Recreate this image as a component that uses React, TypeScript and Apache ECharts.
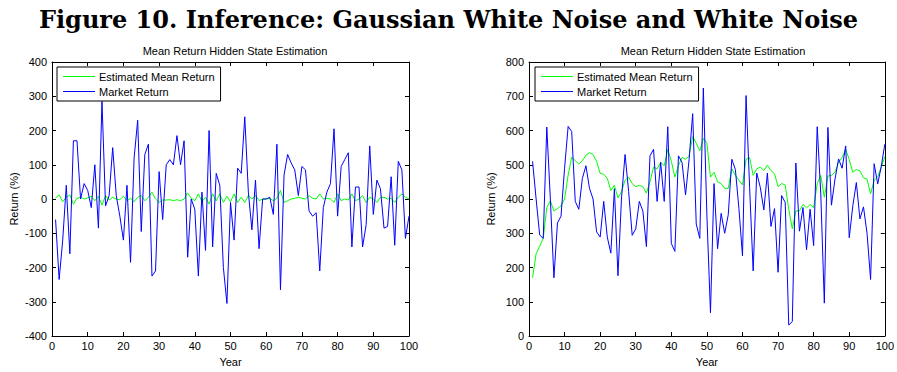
import React, { useEffect, useRef } from "react";
import * as echarts from "echarts";

const years: number[] = Array.from({ length: 100 }, (_, i) => i + 1);

const leftEstimated: number[] = [
  3, 12, -8, 5, 12, -15, 2, 5, 0, 3, 8, -5, 8, -18, 10, -3, 5, 0, -2, 8,
  -5, 2, -8, 5, 10, -5, 5, 20, 0, -10, -3, -3, -2, -5, -2, -5, 0, 18, 2, -5,
  15, -8, 5, -15, 15, -5, 15, -10, 8, -8, 15, -10, 5, -10, 10, 0, 10, -5, 0, 0,
  2, -5, 2, 25, -10, -5, 0, 2, 5, 2, 0, 10, 2, 0, 15, 0, 2, 0, -10, 15,
  -5, 0, -3, 15, -5, 0, 10, -10, 5, 0, -10, 5, 5, 0, 2, -10, 5, 15, 5, 0,
];

const leftMarket: number[] = [
  -60, -235, -120, 40, -160, 170, 170, 0, 45, 25, -25, 100, -85, 285, -20, 10, 150, 10, -50, -120,
  40, -185, 120, 230, -95, 130, 160, -225, -210, 80, -60, 100, 115, 100, 185, 100, 170, -170, 0, -30,
  -225, 20, -150, 200, -140, 75, 40, -200, -305, -10, -120, 90, 75, 240, 20, -90, 55, -145, 0, 0,
  5, -45, 160, -265, 70, 130, 105, 85, 10, 95, 85, -35, -50, -40, -210, -25, 20, 45, 205, -50,
  95, 115, 135, -140, 35, 35, -140, -75, 155, -45, 55, 30, -85, -80, 65, -135, 110, 85, -115, -50,
];

const rightEstimated: number[] = [
  170, 240, 262, 285, 375, 395, 365, 372, 380, 400, 470, 522, 512, 502, 512, 528, 535, 530, 510, 475,
  472, 460, 425, 440, 403, 422, 455, 464, 445, 436, 440, 436, 417, 450, 493, 488, 507, 497, 545, 510,
  464, 497, 521, 516, 526, 582, 563, 540, 577, 563, 464, 478, 450, 445, 431, 431, 488, 469, 455, 441,
  516, 521, 469, 488, 493, 483, 499, 483, 474, 436, 445, 441, 370, 313, 365, 365, 384, 374, 384, 375,
  445, 469, 405, 467, 469, 478, 507, 521, 545, 515, 478, 486, 482, 462, 458, 415, 455, 465, 493, 524,
];

const rightMarket: number[] = [
  510, 400, 295, 285, 610, 400, 170, 330, 350, 490, 612, 597, 393, 370, 460, 497, 431, 400, 304, 289,
  393, 289, 242, 430, 176, 403, 530, 422, 294, 313, 393, 365, 261, 526, 545, 393, 507, 393, 611, 270,
  247, 526, 507, 412, 516, 649, 327, 285, 724, 350, 68, 445, 255, 358, 300, 354, 516, 486, 372, 234,
  702, 434, 190, 476, 434, 368, 476, 320, 372, 186, 410, 390, 32, 42, 505, 306, 375, 252, 370, 264,
  611, 415, 96, 609, 382, 458, 517, 490, 555, 287, 380, 448, 342, 377, 300, 165, 503, 444, 495, 560,
];

const figureTitle = "Figure 10. Inference: Gaussian White Noise and White Noise";
const subTitle = "Mean Return Hidden State Estimation";
const estName = "Estimated Mean Return";
const mktName = "Market Return";

const pairs = (vals: number[]) => years.map((y, i) => [y, vals[i]]);

export default function App() {
  const ref = useRef<HTMLDivElement>(null);
  useEffect(() => {
    document.body.style.margin = "0";
    const chart = echarts.init(ref.current!, undefined, { renderer: "svg" });
    const font = "Liberation Sans, Arial, sans-serif";
    const tickLabel = { color: "#000", fontSize: 11, fontFamily: font };
    const axLine = { show: true, onZero: false, lineStyle: { color: "#000", width: 1 } };
    const tick = { show: true, inside: true, length: 4, lineStyle: { color: "#000" } };
    const xBase = (gridIndex: number, position: "bottom" | "top", labels: boolean) => ({
      type: "value" as const,
      gridIndex,
      position,
      min: 0,
      max: 100,
      interval: 10,
      axisLine: axLine,
      axisTick: tick,
      splitLine: { show: false },
      axisLabel: labels ? { ...tickLabel, margin: 4 } : { show: false },
      name: labels ? "Year" : "",
      nameLocation: "middle" as const,
      nameGap: 20,
      nameTextStyle: { color: "#000", fontSize: 11, fontFamily: font },
    });
    const yBase = (gridIndex: number, position: "left" | "right", labels: boolean, min: number, max: number) => ({
      type: "value" as const,
      gridIndex,
      position,
      min,
      max,
      interval: 100,
      axisLine: axLine,
      axisTick: tick,
      splitLine: { show: false },
      axisLabel: labels ? { ...tickLabel, margin: 5 } : { show: false },
      name: labels ? "Return (%)" : "",
      nameLocation: "middle" as const,
      nameGap: 33,
      nameTextStyle: { color: "#000", fontSize: 11, fontFamily: font },
    });
    const legendCommon = {
      orient: "vertical" as const,
      top: 67,
      data: [estName, mktName],
      icon: "rect",
      itemWidth: 32,
      itemHeight: 1,
      itemGap: 4,
      padding: [4, 6, 4, 6],
      borderColor: "#000",
      borderWidth: 1,
      backgroundColor: "#fff",
      textStyle: { color: "#000", fontSize: 11, fontFamily: font, padding: [0, 0, 0, -1] },
    };
    chart.setOption({
      animation: false,
      backgroundColor: "#fff",
      title: [
        {
          text: figureTitle,
          left: "center",
          top: 2,
          textStyle: { fontFamily: "DejaVu Serif", fontWeight: "bold", fontSize: 24, color: "#000" },
        },
        {
          text: subTitle,
          left: 230,
          top: 40,
          textAlign: "center",
          textStyle: { fontFamily: font, fontWeight: "normal", fontSize: 11, color: "#000" },
        },
        {
          text: subTitle,
          left: 708,
          top: 40,
          textAlign: "center",
          textStyle: { fontFamily: font, fontWeight: "normal", fontSize: 11, color: "#000" },
        },
      ],
      legend: [
        { ...legendCommon, left: 57 },
        { ...legendCommon, left: 535 },
      ],
      grid: [
        { left: 52, top: 62, width: 357, height: 282, containLabel: false },
        { left: 529, top: 62, width: 358, height: 282, containLabel: false },
      ],
      xAxis: [xBase(0, "bottom", true), xBase(0, "top", false), xBase(1, "bottom", true), xBase(1, "top", false)],
      yAxis: [
        yBase(0, "left", true, -400, 400),
        yBase(0, "right", false, -400, 400),
        yBase(1, "left", true, 0, 800),
        yBase(1, "right", false, 0, 800),
      ],
      series: [
        {
          name: estName, type: "line", xAxisIndex: 0, yAxisIndex: 0, data: pairs(leftEstimated),
          showSymbol: false, lineStyle: { color: "#00ff00", width: 1 }, itemStyle: { color: "#00ff00" },
        },
        {
          name: mktName, type: "line", xAxisIndex: 0, yAxisIndex: 0, data: pairs(leftMarket),
          showSymbol: false, lineStyle: { color: "#0000ff", width: 1 }, itemStyle: { color: "#0000ff" },
        },
        {
          name: estName, type: "line", xAxisIndex: 2, yAxisIndex: 2, data: pairs(rightEstimated),
          showSymbol: false, lineStyle: { color: "#00ff00", width: 1 }, itemStyle: { color: "#00ff00" },
        },
        {
          name: mktName, type: "line", xAxisIndex: 2, yAxisIndex: 2, data: pairs(rightMarket),
          showSymbol: false, lineStyle: { color: "#0000ff", width: 1 }, itemStyle: { color: "#0000ff" },
        },
      ],
    });
    return () => chart.dispose();
  }, []);
  return <div ref={ref} style={{ width: 897, height: 372 }} />;
}
